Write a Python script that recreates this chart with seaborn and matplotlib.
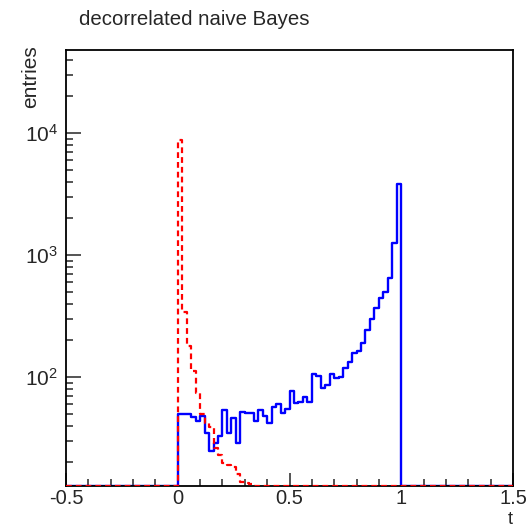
import numpy as np
import matplotlib
matplotlib.use("Agg")
import matplotlib.pyplot as plt
import matplotlib.ticker as mticker
import seaborn as sns

# binning of the histograms (100 bins over [-0.5, 1.5])
n_bins = 100
t_min, t_max = -0.5, 1.5

# signal (blue, solid), bins starting at t = 0
signal_counts = [50, 50, 50, 47, 44, 48, 35, 25, 29, 33,
                 54, 35, 46, 29, 52, 51, 51, 44, 54, 48,
                 42, 57, 60, 51, 55, 77, 61, 63, 68, 63,
                 106, 102, 82, 86, 106, 98, 101, 118, 133, 158,
                 163, 191, 243, 297, 366, 442, 500, 643, 1260, 3800]

# background (red, dashed), bins starting at t = 0
background_counts = [8800, 340, 180, 112, 74, 50, 42, 39, 26, 23,
                     19.6, 19, 18.4, 16.2, 13.8, 13.5, 13.3]

x_tick_values = [-0.5, 0, 0.5, 1, 1.5]
x_tick_labels = ["-0.5", "0", "0.5", "1", "1.5"]
y_lo, y_hi = 12.8, 47900

title = "decorrelated naive Bayes"
x_label = "t"
y_label = "entries"

sns.set_style("white")
plt.rcParams["font.family"] = ["Liberation Sans", "DejaVu Sans"]
plt.rcParams["axes.unicode_minus"] = False
plt.rcParams["mathtext.default"] = "regular"

edges = np.linspace(t_min, t_max, n_bins + 1)
width = (t_max - t_min) / n_bins
i0 = int(round((0.0 - t_min) / width))


def full_hist(counts):
    h = np.zeros(n_bins)
    h[i0:i0 + len(counts)] = counts
    # empty bins are drawn on the bottom of the frame, like ROOT does
    h = np.clip(h, y_lo, None)
    return np.append(h, h[-1])


fig = plt.figure(figsize=(5.30, 5.32), dpi=100)
ax = fig.add_axes([66 / 530, 1 - 486 / 532, (513 - 66) / 530, (486 - 50) / 532])
ax.set_yscale("log")

sns.lineplot(x=edges, y=full_hist(signal_counts), drawstyle="steps-post",
             color="#0000ff", lw=1.7, ax=ax, zorder=2)
sns.lineplot(x=edges, y=full_hist(background_counts), drawstyle="steps-post",
             color="#ff0000", lw=1.6, dashes=False, ax=ax, zorder=3,
             linestyle=(0, (2.6, 1.8)))

ax.set_xlim(t_min, t_max)
ax.set_ylim(y_lo, y_hi)

ax.set_xticks(x_tick_values)
ax.set_xticklabels(x_tick_labels)
ax.xaxis.set_minor_locator(mticker.MultipleLocator(0.1))
ax.yaxis.set_major_locator(mticker.LogLocator(base=10))
ax.yaxis.set_minor_locator(mticker.LogLocator(base=10, subs=np.arange(2, 10)))
ax.yaxis.set_minor_formatter(mticker.NullFormatter())

ax.tick_params(axis="x", which="major", direction="in", length=9.5, width=1.1,
               labelsize=14.5, pad=2, top=False, bottom=True)
ax.tick_params(axis="x", which="minor", direction="in", length=5, width=1.1,
               top=False, bottom=True)
ax.tick_params(axis="y", which="major", direction="in", length=11, width=1.1,
               labelsize=15, pad=6, left=True, right=False)
ax.tick_params(axis="y", which="minor", direction="in", length=5, width=1.1,
               left=True, right=False)

for s in ax.spines.values():
    s.set_color("black")
    s.set_linewidth(1.3)

ax.set_xlabel(x_label, fontsize=13, loc="right")
ax.xaxis.set_label_coords(1.0, -0.058)
ax.set_ylabel(y_label, fontsize=15, loc="top")
ax.yaxis.set_label_coords(-0.058, 1.01)

fig.text(79 / 530, 1 - 25 / 532, title, fontsize=14.7, va="baseline", ha="left")

fig.savefig("out.png", dpi=100)
